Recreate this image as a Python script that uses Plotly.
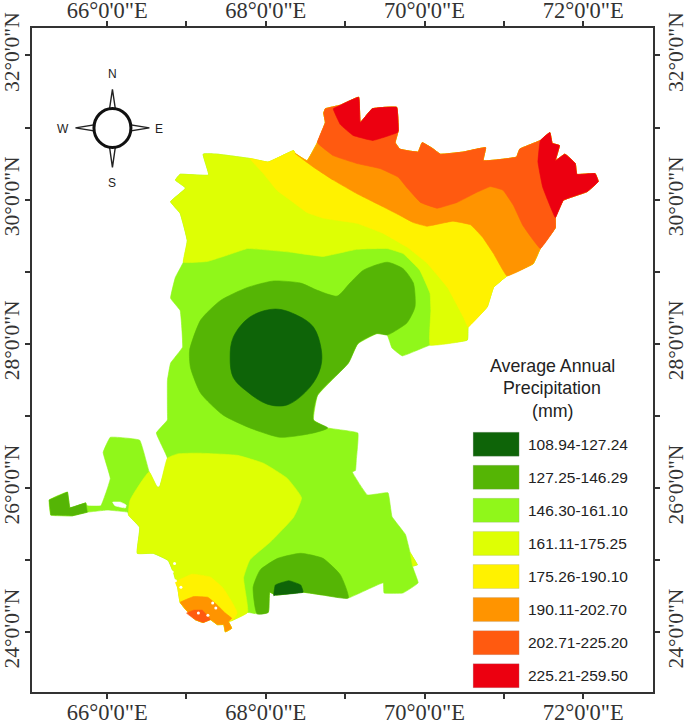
import plotly.graph_objects as go

# Study-area outline, clockwise from the north-west corner
OUTLINE_LON = [67.21,67.39,67.80,68.03,68.35,68.37,68.52,68.65,68.75,68.73,68.75,68.94,69.17,69.19,69.34,69.50,69.65,69.67,69.63,69.69,
               69.92,69.97,70.10,70.20,70.49,70.77,70.74,71.16,71.20,71.46,71.58,71.61,71.70,71.65,71.77,71.90,71.92,72.15,72.19,72.05,
               71.75,71.65,71.65,71.46,71.37,71.04,70.87,70.79,70.55,70.54,70.07,69.72,69.59,69.53,69.40,69.16,69.04,68.65,68.60,68.78,
               69.16,69.14,69.13,69.09,69.28,69.54,69.59,69.76,69.82,69.91,69.85,69.92,69.73,69.49,69.48,69.04,68.72,68.46,68.12,68.05,
               68.03,67.89,67.77,67.58,67.53,67.57,67.49,67.47,67.39,67.30,67.21,67.11,66.99,66.92,66.89,66.84,66.77,66.58,66.38,66.41,
               66.27,66.26,66.00,65.75,65.56,65.29,65.27,65.50,65.53,65.73,65.75,65.92,66.04,65.95,66.04,66.41,66.53,66.63,66.66,66.76,
               66.62,66.76,66.76,66.76,66.80,66.95,66.92,66.80,66.86,66.96,67.01,66.92,66.80,66.99,66.86,66.92,67.28]
OUTLINE_LAT = [30.63,30.63,30.57,30.52,30.68,30.64,30.54,30.79,31.07,31.20,31.26,31.31,31.42,31.07,31.26,31.28,31.28,30.96,30.79,30.70,
               30.66,30.79,30.71,30.63,30.66,30.72,30.54,30.59,30.70,30.82,30.93,30.78,30.75,30.54,30.63,30.50,30.35,30.36,30.25,30.11,
               29.99,29.75,29.61,29.32,29.11,28.94,28.78,28.51,28.23,28.05,27.98,27.83,27.94,28.12,28.14,28.00,27.73,27.28,26.94,26.83,
               26.76,26.38,26.24,26.22,25.90,25.93,25.60,25.35,25.10,24.93,24.91,24.68,24.54,24.54,24.68,24.47,24.51,24.55,24.51,24.55,
               24.27,24.25,24.27,24.16,24.14,24.05,24.00,24.10,24.10,24.17,24.13,24.17,24.31,24.41,24.61,24.81,24.99,25.09,25.09,25.45,
               25.62,25.66,25.69,25.66,25.61,25.62,25.83,25.94,25.72,25.79,25.75,25.75,26.13,26.49,26.70,26.66,26.22,26.01,26.01,26.41,
               26.76,26.94,27.05,27.49,27.73,27.95,28.46,28.63,28.92,29.13,29.43,29.81,29.97,30.16,30.27,30.35,30.34]

# Isohyet contours between precipitation classes
C161N_LON = [70.08,70.07,69.94,69.73,69.53,69.15,68.72,68.31,67.77,67.52,67.26]
C161N_LAT = [28.46,28.70,29.02,29.25,29.32,29.31,29.21,29.27,29.32,29.23,29.14]
C175N_LON = [70.49,70.29,70.03,69.78,69.48,69.15,68.73,68.52,68.31,68.14,67.97]
C175N_LAT = [28.37,28.78,29.12,29.34,29.53,29.67,29.74,29.82,29.99,30.13,30.36]
C190N_LON = [70.87,70.73,70.58,70.36,70.03,69.86,69.69,69.44,69.15,68.85,68.60]
C190N_LAT = [29.25,29.48,29.65,29.70,29.63,29.68,29.78,29.92,30.08,30.27,30.45]
C202N_LON = [71.24,71.12,70.99,70.83,70.66,70.41,70.16,69.95,69.79,69.67,69.44,69.15,68.85]
C202N_LAT = [29.64,29.92,30.13,30.18,30.10,29.96,29.88,29.96,30.15,30.31,30.43,30.50,30.61]
C225W_LON = [69.66,69.35,69.10,68.94,68.85]
C225W_LAT = [30.93,30.82,30.89,31.04,31.26]
C225E_LON = [71.49,71.43]
C225E_LAT = [30.17,30.52]
C127C_LON = [68.60,68.18,67.80,67.46,67.18,67.05,67.04,67.18,67.43,67.77,68.10,68.44,68.65,68.90,69.06,69.23,69.53,69.73,69.86,69.88,69.78,69.59]
C127C_LAT = [26.76,26.70,26.83,27.01,27.31,27.67,27.91,28.33,28.60,28.78,28.87,28.84,28.74,28.66,28.84,29.02,29.13,29.04,28.84,28.51,28.29,28.15]
C108C_LON = [68.12,68.40,68.60,68.70,68.69,68.56,68.27,68.02,67.77,67.59,67.55,67.59,67.80]
C108C_LAT = [28.48,28.39,28.23,27.91,27.67,27.40,27.15,27.16,27.33,27.53,27.81,28.09,28.37]
C161S_LON = [66.89,67.14,67.64,67.97,68.27,68.45,68.35,68.06,67.80,67.72]
C161S_LAT = [26.47,26.48,26.45,26.34,26.13,25.86,25.59,25.25,25.00,24.75]
C175S_LON = [66.86,67.07,67.30,67.46,67.58,67.64]
C175S_LAT = [24.69,24.80,24.76,24.61,24.40,24.26]
C190S_LON = [67.09,67.27,67.39,67.49,67.57]
C190S_LAT = [24.49,24.48,24.37,24.26,24.19]
C202S_LON = [67.00,67.09,67.20,67.28]
C202S_LAT = [24.26,24.30,24.30,24.20]
C127S_LON = [67.84,67.93,68.15,68.44,68.72,68.94]
C127S_LAT = [24.62,24.86,25.02,25.09,25.02,24.79]
C108S_LON = [68.10,68.12,68.29,68.44,68.47,68.12]
C108S_LAT = [24.50,24.65,24.71,24.65,24.55,24.51]
HOLE_LON = [66.07,66.17,66.24,66.23,66.10]
HOLE_LAT = [25.80,25.80,25.76,25.72,25.75]
SPECK_LON = [67.33,67.37,67.15,67.27,66.82,66.86,66.93,66.85]
SPECK_LAT = [24.40,24.33,24.26,24.23,24.83,24.71,24.62,24.95]

CLASS_LABELS = ["108.94-127.24","127.25-146.29","146.30-161.10","161.11-175.25",
                "175.26-190.10","190.11-202.70","202.71-225.20","225.21-259.50"]
CLASS_COLORS = ["#0e6408","#55b505","#90f71a","#deff04","#fff200","#ff9400","#ff5a10","#ec0010"]
LON_TICKS = [65+i for i in range(1,8)]
LAT_TICKS = [24+i for i in range(0,9)]
LON_TEXT = [f"{v}°0'0\"E" if v % 2 == 0 else "" for v in LON_TICKS]
LAT_TEXT = [f"{v}°0'0\"N" if v % 2 == 0 else "" for v in LAT_TICKS]

W, H = 685, 721
L, R, T, B = 31.5, 653, 27.5, 692
XR = [65.053, 72.88]
YR = [23.165, 32.381]

def seg(i, j):
    return OUTLINE_LON[i:j], OUTLINE_LAT[i:j]

fig = go.Figure()

def add(cls, *parts, smooth=0.45):
    xs, ys = [], []
    for p in parts:
        xs += list(p[0]); ys += list(p[1])
    color = "#ffffff" if cls is None else CLASS_COLORS[cls]
    fig.add_trace(go.Scatter(x=xs + xs[:1], y=ys + ys[:1], mode="lines", fill="toself",
                             fillcolor=color,
                             line=dict(color=color, width=0.6, shape="spline", smoothing=smooth),
                             hoverinfo="skip", showlegend=False,
                             name="" if cls is None else CLASS_LABELS[cls]))

add(2, seg(0, len(OUTLINE_LON)), smooth=0.25)
add(3, seg(129, len(OUTLINE_LON)), seg(0, 51), (C161N_LON, C161N_LAT), smooth=0.25)
add(4, seg(2, 49), (C175N_LON, C175N_LAT), smooth=0.25)
add(5, seg(5, 46), (C190N_LON, C190N_LAT), smooth=0.25)
add(6, seg(7, 44), (C202N_LON, C202N_LAT), smooth=0.25)
add(7, seg(11, 18), (C225W_LON, C225W_LAT), smooth=0.25)
add(7, seg(29, 42), (C225E_LON, C225E_LAT), smooth=0.25)
add(1, seg(53, 60), (C127C_LON, C127C_LAT), smooth=0.6)
add(0, (C108C_LON, C108C_LAT), smooth=1.0)
add(3, seg(68, 71), smooth=0)
add(3, (C161S_LON, C161S_LAT), seg(82, 101), ([66.29], [25.83]), seg(116, 120), smooth=0.4)
add(4, (C175S_LON, C175S_LAT), seg(83, 95), smooth=0.3)
add(5, seg(84, 94), (C190S_LON, C190S_LAT), smooth=0.2)
add(6, (C202S_LON, C202S_LAT), seg(89, 92), smooth=0.2)
add(1, (C127S_LON, C127S_LAT), seg(75, 82), smooth=0.5)
add(0, (C108S_LON, C108S_LAT), smooth=0.3)
add(1, seg(103, 110), smooth=0)
add(None, (HOLE_LON, HOLE_LAT), smooth=0.3)
fig.add_trace(go.Scatter(x=SPECK_LON, y=SPECK_LAT, mode="markers", marker=dict(color="white", size=3),
                         hoverinfo="skip", showlegend=False))
# empty trace keeps the top / right axes alive
fig.add_trace(go.Scatter(x=[None], y=[None], xaxis="x2", yaxis="y2", showlegend=False, hoverinfo="skip"))

def px(x): return (x - L) / (R - L)
def py(y): return (B - y) / (B - T)

shapes, annots = [], []
# legend
for i, (lab, col) in enumerate(zip(CLASS_LABELS, CLASS_COLORS)):
    top = 432 + i * 33.1
    shapes.append(dict(type="rect", xref="paper", yref="paper", x0=px(473), x1=px(519), y0=py(top), y1=py(top + 24),
                       fillcolor=col, line=dict(color="rgba(150,150,150,0.4)", width=0.6), layer="above"))
    annots.append(dict(xref="paper", yref="paper", x=px(526), y=py(top + 12), text=lab, showarrow=False,
                       xanchor="left", yanchor="middle", font=dict(family="Liberation Sans", size=15.5, color="#222")))
for t, yy in zip(["Average Annual", "Precipitation", "(mm)"], [366, 388, 411]):
    annots.append(dict(xref="paper", yref="paper", x=px(552), y=py(yy), text=t, showarrow=False,
                       xanchor="center", yanchor="middle", font=dict(family="Liberation Sans", size=17.8, color="#222")))
# north arrow
cx, cy = 112, 127.5
def needle(pts):
    d = "M " + " L ".join(f"{px(a):.5f},{py(b):.5f}" for a, b in pts) + " Z"
    shapes.append(dict(type="path", xref="paper", yref="paper", path=d, fillcolor="white",
                       line=dict(color="#222", width=1.4), layer="above"))
needle([(cx, 89), (cx + 3, 109), (cx - 3, 109)])
needle([(cx, 167), (cx + 3, 146), (cx - 3, 146)])
needle([(75, cy), (94, cy - 3), (94, cy + 3)])
needle([(149, cy), (130, cy - 3), (130, cy + 3)])
shapes.append(dict(type="circle", xref="paper", yref="paper", x0=px(cx - 18.5), x1=px(cx + 18.5), y0=py(cy - 19.5), y1=py(cy + 19.5),
                   fillcolor="white", line=dict(color="#111", width=3), layer="above"))
for t, xx, yy in [("N", 112, 74), ("S", 112, 183), ("W", 63, 128.5), ("E", 159, 129)]:
    annots.append(dict(xref="paper", yref="paper", x=px(xx), y=py(yy), text=t, showarrow=False,
                       xanchor="center", yanchor="middle",
                       font=dict(family="Liberation Sans", size=12, color="#222")))

xax = dict(range=XR, tickmode="array", tickvals=LON_TICKS, ticktext=LON_TEXT, ticks="outside", ticklen=5, tickwidth=1.5,
           tickcolor="#333", showgrid=False, zeroline=False, showline=True, linecolor="#333", linewidth=2,
           tickfont=dict(family="Liberation Serif", size=22.5, color="#333"), tickangle=0, automargin=False,
           ticklabelstandoff=-6)
yax = dict(range=YR, tickmode="array", tickvals=LAT_TICKS, ticktext=LAT_TEXT, ticks="outside", ticklen=5, tickwidth=1.5,
           tickcolor="#333", showgrid=False, zeroline=False, showline=True, linecolor="#333", linewidth=2,
           tickfont=dict(family="Liberation Serif", size=21.5, color="#333"), tickangle=-90, automargin=False,
           ticklabelstandoff=-3)
fig.update_layout(
    width=W, height=H, autosize=False, paper_bgcolor="white", plot_bgcolor="white",
    margin=dict(l=L, r=W - R, t=T, b=H - B, pad=0, autoexpand=False),
    xaxis=dict(**xax, side="bottom"),
    yaxis=dict(**yax, side="left"),
    xaxis2=dict(**xax, side="top", overlaying="x", anchor="y2"),
    yaxis2=dict(**yax, side="right", overlaying="y", anchor="x2"),
    shapes=shapes, annotations=annots, showlegend=False,
)
fig.write_html("out.html", config=dict(displayModeBar=False),
               post_script="document.body.style.margin='0';document.documentElement.style.overflow='hidden';")
